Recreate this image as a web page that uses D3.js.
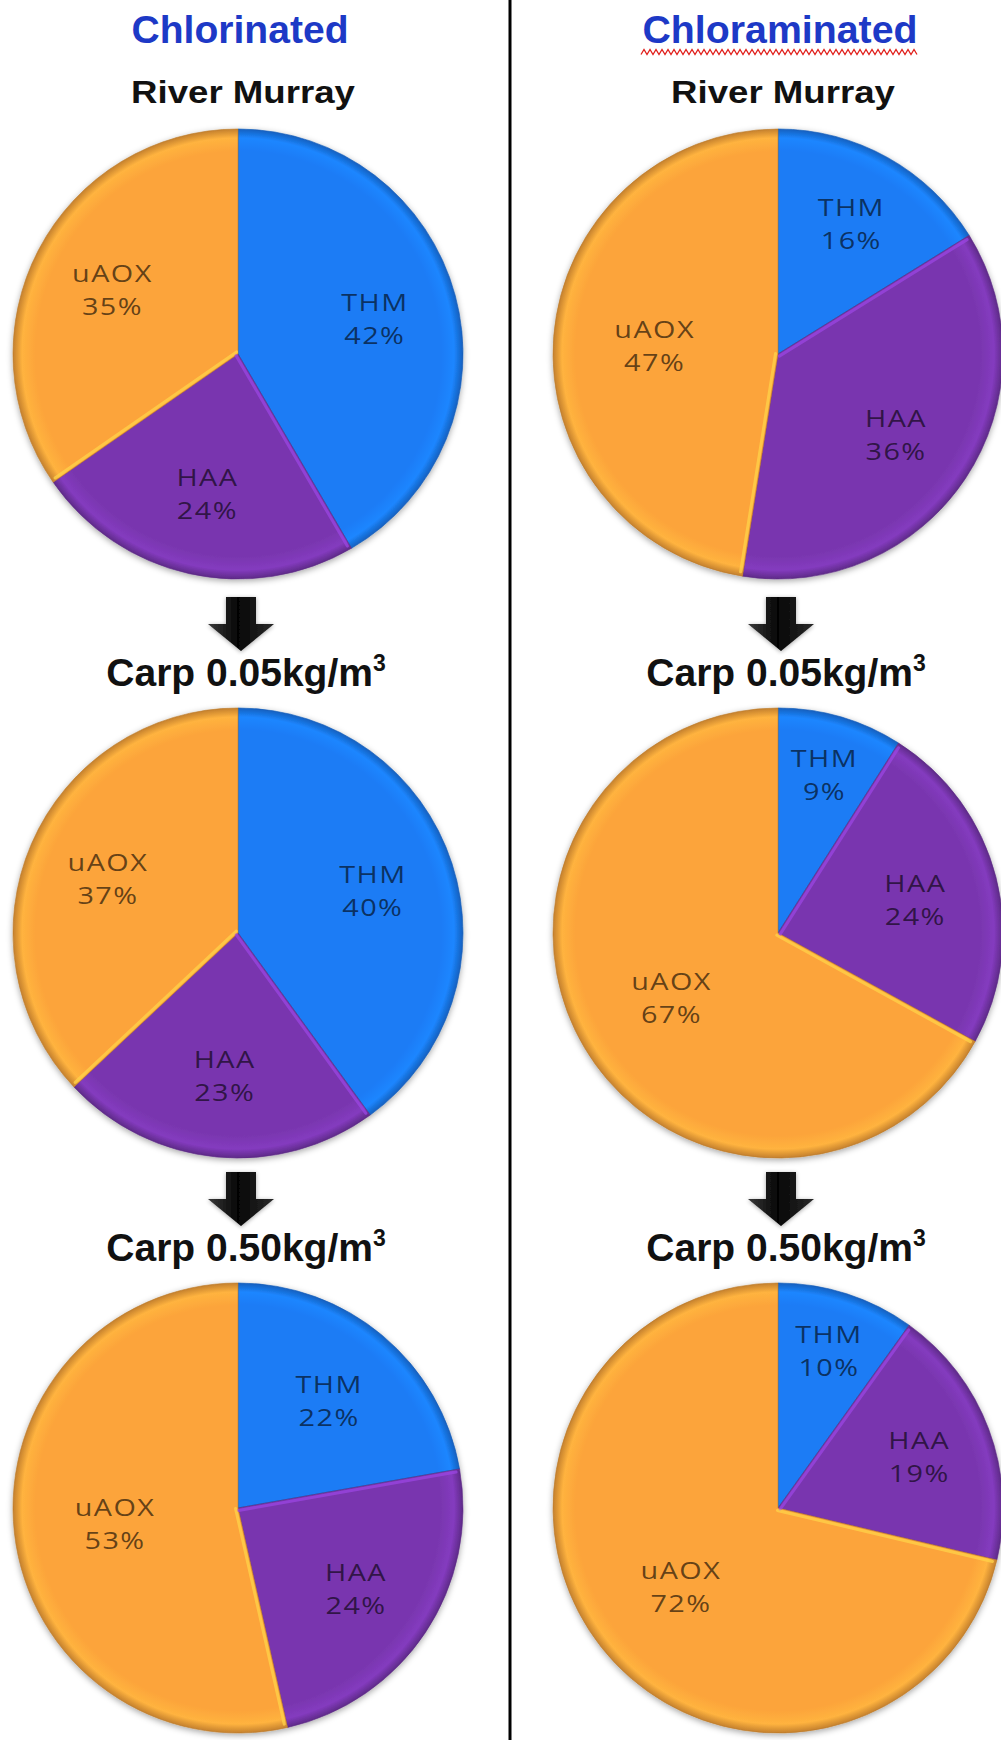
<!DOCTYPE html>
<html>
<head>
<meta charset="utf-8">
<script src="https://cdn.jsdelivr.net/npm/d3@7"></script>
<style>
  html, body { margin: 0; padding: 0; background: #fff; }
  svg { display: block; }
</style>
</head>
<body>
<svg id="chart" width="1001" height="1740"></svg>
<script>
// Share of halogenated by-products (THM, HAA, unknown AOX) per treatment stage
const categories = ["THM", "HAA", "uAOX"];
const panelTitles = ["Chlorinated", "Chloraminated"];
const stageNames = ["River Murray", "Carp 0.05kg/m", "Carp 0.50kg/m"];
const stageSuperscripts = ["", "3", "3"];

const chlorinatedRiverMurray = [42, 24, 35];
const chlorinatedCarp005 = [40, 23, 37];
const chlorinatedCarp050 = [22, 24, 53];

const chloraminatedRiverMurray = [16, 36, 47];
const chloraminatedCarp005 = [9, 24, 67];
const chloraminatedCarp050 = [10, 19, 72];

const panels = [
  [chlorinatedRiverMurray, chlorinatedCarp005, chlorinatedCarp050],
  [chloraminatedRiverMurray, chloraminatedCarp005, chloraminatedCarp050]
];

const W = 1001, H = 1740;
const svg = d3.select("#chart");

const colX = [238, 778];          // pie centres per column
const rowY = [354, 933, 1508];    // pie centres per stage
const R = 225;

const colour = d3.scaleOrdinal()
  .domain(categories)
  .range(["#1a7bf5", "#7936af", "#fca43a"]);

const defs = svg.append("defs");

// soft rim shading on each slice colour
categories.forEach((c, i) => {
  const base = d3.color(colour(c));
  const g = defs.append("radialGradient")
    .attr("id", "shade" + i)
    .attr("gradientUnits", "userSpaceOnUse")
    .attr("cx", 0).attr("cy", 0).attr("r", R);
  g.append("stop").attr("offset", "0%").attr("stop-color", base.formatHex());
  g.append("stop").attr("offset", "90%").attr("stop-color", base.formatHex());
  g.append("stop").attr("offset", "96%").attr("stop-color", base.brighter(0.25).formatHex());
  g.append("stop").attr("offset", "100%").attr("stop-color", base.darker(0.7).formatHex());
});

const shadow = defs.append("filter").attr("id", "pieShadow")
  .attr("x", "-10%").attr("y", "-10%").attr("width", "120%").attr("height", "120%");
shadow.append("feDropShadow")
  .attr("dx", 0).attr("dy", 2).attr("stdDeviation", 3)
  .attr("flood-color", "#000").attr("flood-opacity", 0.35);

const arrowGrad = defs.append("linearGradient").attr("id", "arrowGrad")
  .attr("x1", "0%").attr("x2", "100%").attr("y1", "0%").attr("y2", "0%");
arrowGrad.append("stop").attr("offset", "0%").attr("stop-color", "#3a3a3a");
arrowGrad.append("stop").attr("offset", "45%").attr("stop-color", "#050505");
arrowGrad.append("stop").attr("offset", "100%").attr("stop-color", "#2a2a2a");

const arrowShadow = defs.append("filter").attr("id", "arrowShadow")
  .attr("x", "-30%").attr("y", "-30%").attr("width", "160%").attr("height", "160%");
arrowShadow.append("feDropShadow")
  .attr("dx", 0).attr("dy", 1).attr("stdDeviation", 2)
  .attr("flood-color", "#000").attr("flood-opacity", 0.35);

// divider between the two treatments
svg.append("line")
  .attr("x1", 510).attr("x2", 510).attr("y1", 0).attr("y2", H)
  .attr("stroke", "#000").attr("stroke-width", 3);

const pie = d3.pie().sort(null).value(d => d);
const arc = d3.arc().innerRadius(0).outerRadius(R);

// labels sit further out in thin slices so they fit inside them
function labelRadius(frac) {
  if (frac < 0.12) return R * 0.74;
  if (frac < 0.2) return R * 0.67;
  if (frac < 0.45) return R * 0.63;
  return R * 0.55;
}

const titleLen = [217, 275];
const titleFont = "'Liberation Sans', Arial, sans-serif";
const labelFont = "'Open Sans', 'Noto Sans', sans-serif";

panels.forEach((stages, p) => {
  const cx = colX[p];

  svg.append("text")
    .attr("x", cx + 2).attr("y", 43)
    .attr("text-anchor", "middle")
    .attr("font-family", titleFont).attr("font-weight", "bold")
    .attr("font-size", 38)
    .attr("textLength", titleLen[p]).attr("lengthAdjust", "spacingAndGlyphs")
    .attr("fill", "#1d39c6")
    .text(panelTitles[p]);

  if (p === 1) {
    // wavy underline beneath the second heading
    const x0 = cx - 137, x1 = cx + 140, yw = 52;
    const pts = d3.range(x0, x1 + 0.1, 3).map((x, i) => [x, yw + (i % 2 ? -2.5 : 2.5)]);
    svg.append("path")
      .attr("d", d3.line()(pts))
      .attr("fill", "none").attr("stroke", "#e0201c").attr("stroke-width", 1.3);
  }

  stages.forEach((values, s) => {
    const cy = rowY[s];
    const total = d3.sum(values);

    // stage heading
    if (s === 0) {
      svg.append("text")
        .attr("x", cx + 5).attr("y", 103)
        .attr("text-anchor", "middle")
        .attr("font-family", titleFont).attr("font-weight", "bold")
        .attr("font-size", 32)
        .attr("textLength", 224).attr("lengthAdjust", "spacingAndGlyphs")
        .attr("fill", "#111")
        .text(stageNames[s]);
    } else {
      const arrowTop = rowY[s] - R - 111;
      const ax = cx + 3;
      const arrowPath = d3.path();
      arrowPath.moveTo(ax - 15, arrowTop);
      arrowPath.lineTo(ax + 15, arrowTop);
      arrowPath.lineTo(ax + 15, arrowTop + 27);
      arrowPath.lineTo(ax + 33, arrowTop + 27);
      arrowPath.lineTo(ax, arrowTop + 54);
      arrowPath.lineTo(ax - 33, arrowTop + 27);
      arrowPath.lineTo(ax - 15, arrowTop + 27);
      arrowPath.closePath();
      svg.append("path")
        .attr("d", arrowPath.toString())
        .attr("fill", "url(#arrowGrad)")
        .attr("filter", "url(#arrowShadow)");

      const t = svg.append("text")
        .attr("x", cx + 8).attr("y", arrowTop + 89)
        .attr("text-anchor", "middle")
        .attr("font-family", titleFont).attr("font-weight", "bold")
        .attr("font-size", 39)
        .attr("fill", "#111");
      t.append("tspan").text(stageNames[s]);
      t.append("tspan")
        .attr("font-size", 23).attr("dy", -15)
        .text(stageSuperscripts[s]);
    }

    const g = svg.append("g")
      .attr("transform", `translate(${cx},${cy})`);

    const slices = pie(values);

    g.append("g").attr("filter", "url(#pieShadow)")
      .selectAll("path")
      .data(slices)
      .join("path")
      .attr("d", arc)
      .attr("fill", (d, i) => `url(#shade${i})`)
      .attr("stroke", (d, i) => d3.color(colour(categories[i])).darker(0.8).formatHex())
      .attr("stroke-width", 1)
      .attr("stroke-opacity", 0.6);

    // light bevel along the leading edge of the 2nd and 3rd slices
    g.selectAll("line.bevel")
      .data(slices.filter(d => d.index > 0))
      .join("line")
      .attr("class", "bevel")
      .each(function (d) {
        const a = d.startAngle, off = 2.5;
        const ox = Math.cos(a) * off, oy = Math.sin(a) * off;
        d3.select(this)
          .attr("x1", ox).attr("y1", oy)
          .attr("x2", Math.sin(a) * (R - 4) + ox)
          .attr("y2", -Math.cos(a) * (R - 4) + oy);
      })
      .attr("stroke", d => d3.color(colour(categories[d.index])).brighter(0.7).formatHex())
      .attr("stroke-width", 3)
      .attr("stroke-opacity", 0.75)
      .attr("stroke-linecap", "round");

    const labels = g.selectAll("g.lbl")
      .data(slices)
      .join("g")
      .attr("class", "lbl")
      .attr("transform", d => {
        const lr = labelRadius(d.value / total);
        const c = d3.arc().innerRadius(lr).outerRadius(lr).centroid(d);
        return `translate(${c[0]},${c[1]}) scale(1.2,1)`;
      });

    labels.append("text")
      .attr("text-anchor", "middle")
      .attr("y", -6)
      .attr("font-family", labelFont)
      .attr("font-size", 24)
      .attr("letter-spacing", 1.2)
      .attr("fill", "#000").attr("fill-opacity", 0.62)
      .text((d, i) => categories[i]);

    labels.append("text")
      .attr("text-anchor", "middle")
      .attr("y", 27)
      .attr("font-family", labelFont)
      .attr("font-size", 24)
      .attr("letter-spacing", 1.2)
      .attr("fill", "#000").attr("fill-opacity", 0.62)
      .text(d => d.value + "%");
  });
});
</script>
</body>
</html>
